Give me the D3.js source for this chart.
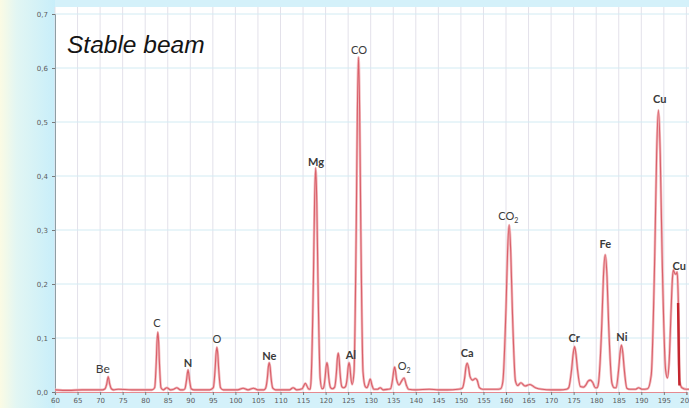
<!DOCTYPE html>
<html>
<head>
<meta charset="utf-8">
<script src="https://cdn.jsdelivr.net/npm/d3@7"></script>
<style>
body { margin: 0; background: #fff; }
svg { display: block; }
.axis text { font-family: "DejaVu Sans", sans-serif; font-size: 7px; fill: #5a5a5a; }
.peak { font-family: Lato, "Open Sans", sans-serif; fill: #3a3a3a; }
</style>
</head>
<body>
<script>
var w = 689;
var h = 408;

// mass (amu) and signal, peak by peak
var spectrum = [
  [60, 0.004], [63, 0.003], [66, 0.004], [69, 0.004], [70.5, 0.004],
  [71.1, 0.006], [71.45, 0.014], [71.8, 0.028], [72.15, 0.014], [72.5, 0.006], [73.0, 0.004],
  [74, 0.005], [77, 0.004], [80, 0.004], [81.5, 0.004],
  [82.1, 0.008], [82.45, 0.055], [82.62, 0.093], [82.8, 0.111], [82.98, 0.093], [83.15, 0.055], [83.5, 0.008], [84.0, 0.004],
  [84.8, 0.008], [85.6, 0.004], [86.3, 0.005], [87.0, 0.008], [87.8, 0.004], [88.4, 0.004],
  [88.8, 0.006], [89.15, 0.021], [89.5, 0.041], [89.85, 0.021], [90.2, 0.006], [90.8, 0.004],
  [92, 0.004], [94.3, 0.004],
  [95.1, 0.008], [95.5, 0.042], [95.7, 0.07], [95.9, 0.083], [96.1, 0.07], [96.3, 0.042], [96.7, 0.008], [97.3, 0.004],
  [99, 0.004], [100.5, 0.004], [101.7, 0.007], [102.8, 0.004], [104, 0.007], [105, 0.004], [106.3, 0.004],
  [106.7, 0.007], [107.1, 0.027], [107.3, 0.046], [107.5, 0.054], [107.7, 0.046], [107.9, 0.027], [108.3, 0.007], [108.9, 0.004],
  [110, 0.004], [112, 0.004], [112.8, 0.008], [113.6, 0.004], [114.8, 0.006], [115.5, 0.016], [116.2, 0.006], [116.6, 0.005],
  [116.8, 0.025], [117.3, 0.21], [117.55, 0.35], [117.8, 0.415], [118.05, 0.35], [118.3, 0.21], [118.8, 0.025], [119.2, 0.006],
  [119.5, 0.007], [119.9, 0.027], [120.1, 0.046], [120.3, 0.054], [120.5, 0.046], [120.7, 0.027], [121.1, 0.008], [121.5, 0.006],
  [122.0, 0.009], [122.4, 0.036], [122.6, 0.061], [122.8, 0.072], [123.0, 0.061], [123.2, 0.036], [123.6, 0.01], [124.0, 0.008],
  [124.4, 0.01], [124.8, 0.027], [125.0, 0.046], [125.2, 0.054], [125.4, 0.046], [125.6, 0.027], [125.9, 0.014],
  [126.3, 0.037], [126.8, 0.31], [127.05, 0.52], [127.3, 0.62], [127.55, 0.52], [127.8, 0.31], [128.3, 0.037], [128.8, 0.01],
  [129.2, 0.008], [129.5, 0.014], [129.9, 0.024], [130.3, 0.012], [130.7, 0.005],
  [131.5, 0.005], [132.1, 0.008], [132.8, 0.004], [133.8, 0.005],
  [134.4, 0.006], [134.85, 0.023], [135.1, 0.039], [135.3, 0.046], [135.5, 0.039], [135.75, 0.023], [136.3, 0.013],
  [136.9, 0.021], [137.4, 0.026], [137.9, 0.013], [138.4, 0.005],
  [140, 0.004], [143, 0.005], [145, 0.004], [147, 0.004], [149.4, 0.005],
  [150.3, 0.007], [150.85, 0.027], [151.1, 0.045], [151.4, 0.053], [151.7, 0.045], [152.0, 0.029], [152.6, 0.022],
  [153.2, 0.025], [153.6, 0.022], [154.1, 0.008], [154.8, 0.005],
  [156, 0.005], [158, 0.005], [158.8, 0.006],
  [159.3, 0.019], [160.0, 0.155], [160.35, 0.26], [160.7, 0.309], [161.05, 0.26], [161.4, 0.155], [162.1, 0.02], [162.6, 0.012],
  [163.3, 0.017], [164.2, 0.011], [165.3, 0.014], [166.5, 0.008], [168, 0.005], [170, 0.004], [172, 0.004], [173.4, 0.005],
  [173.9, 0.008], [174.55, 0.042], [174.9, 0.071], [175.2, 0.084], [175.5, 0.071], [175.85, 0.042], [176.5, 0.01], [177.2, 0.009],
  [177.7, 0.013], [178.2, 0.02], [178.7, 0.022], [179.2, 0.018], [179.8, 0.008], [180.2, 0.008],
  [180.5, 0.016], [181.25, 0.127], [181.6, 0.213], [182.0, 0.254], [182.4, 0.213], [182.75, 0.127], [183.5, 0.016], [184.0, 0.008],
  [184.4, 0.008], [185.0, 0.044], [185.3, 0.073], [185.6, 0.087], [185.9, 0.073], [186.2, 0.044], [186.8, 0.007], [187.5, 0.005],
  [188.7, 0.005], [189.4, 0.008], [190.2, 0.005], [191.4, 0.006],
  [192.2, 0.031], [193.0, 0.26], [193.4, 0.44], [193.8, 0.522], [194.2, 0.44], [194.6, 0.26], [195.4, 0.04], [195.8, 0.026],
  [196.2, 0.06], [196.6, 0.15], [196.9, 0.21], [197.1, 0.226], [197.4, 0.22], [197.7, 0.218], [197.95, 0.222], [198.2, 0.17],
  [198.5, 0.02], [199.0, 0.008], [200.0, 0.005], [200.8, 0.005]
];

// darker trace at the right edge
var spectrumEdge = [[198.15, 0.165], [198.25, 0.11], [198.35, 0.05], [198.45, 0.012]];

var peakNames = ["Be", "C", "N", "O", "Ne", "Mg", "Al", "CO", "O|2", "Ca", "CO|2", "Cr", "Fe", "Ni", "Cu", "Cu"];
var peakMass = [70.6, 82.6, 89.5, 95.9, 107.5, 117.9, 125.6, 127.4, 137.4, 151.4, 160.5, 175.1, 182.0, 185.7, 194.1, 198.4];
var peakLevel = [0.035, 0.120, 0.046, 0.091, 0.059, 0.419, 0.061, 0.626, 0.041, 0.065, 0.319, 0.093, 0.267, 0.094, 0.535, 0.226];
var peakBold = [false, false, true, false, true, true, true, false, false, true, false, true, true, true, true, true];

var xTicks = d3.range(60, 201, 5);
var yTicks = [0, 0.1, 0.2, 0.3, 0.4, 0.5, 0.6, 0.7];

var left = 55;
var bottom = 392;
var plotTop = 7;

var xScale = d3.scaleLinear()
  .domain([60, 200])
  .range([left, 686.4]);

var yScale = d3.scaleLinear()
  .domain([0, 0.7])
  .range([bottom, 14]);

var svg = d3.select("body")
  .append("svg")
  .attr("width", w)
  .attr("height", h);

var defs = svg.append("defs");
var grad = defs.append("linearGradient")
  .attr("id", "sideFill")
  .attr("x1", "0").attr("x2", "1").attr("y1", "0").attr("y2", "0");
grad.append("stop").attr("offset", "0").attr("stop-color", "#fbfbe4");
grad.append("stop").attr("offset", "0.3").attr("stop-color", "#e2f6f3");
grad.append("stop").attr("offset", "1").attr("stop-color", "#c8eefa");

defs.append("clipPath")
  .attr("id", "plotClip")
  .append("rect")
  .attr("x", left)
  .attr("y", plotTop)
  .attr("width", w - left)
  .attr("height", bottom - plotTop + 1);

// frame
svg.append("rect")
  .attr("x", 0).attr("y", 0)
  .attr("width", w).attr("height", h)
  .attr("fill", "#d4f1fa");
svg.append("rect")
  .attr("x", 0).attr("y", 0)
  .attr("width", left).attr("height", h)
  .attr("fill", "url(#sideFill)");
svg.append("rect")
  .attr("x", left).attr("y", plotTop)
  .attr("width", w - left).attr("height", bottom - plotTop)
  .attr("fill", "#fff");

// grid
svg.append("g")
  .selectAll("line")
  .data(xTicks)
  .enter()
  .append("line")
  .attr("x1", function(d) { return xScale(d); })
  .attr("x2", function(d) { return xScale(d); })
  .attr("y1", plotTop)
  .attr("y2", bottom)
  .attr("stroke", "#e3e1ea")
  .attr("stroke-width", 1);

svg.append("g")
  .selectAll("line")
  .data(yTicks.slice(1))
  .enter()
  .append("line")
  .attr("x1", left)
  .attr("x2", w)
  .attr("y1", function(d) { return yScale(d); })
  .attr("y2", function(d) { return yScale(d); })
  .attr("stroke", "#d2ebf3")
  .attr("stroke-width", 1);

// axes
var xAxis = d3.axisBottom(xScale)
  .tickValues(xTicks)
  .tickSize(3)
  .tickPadding(3)
  .tickFormat(d3.format("d"));

var yAxis = d3.axisLeft(yScale)
  .tickValues(yTicks)
  .tickSize(3)
  .tickPadding(4)
  .tickFormat(function(d) { return d3.format(".1f")(d).replace(".", ","); });

var gx = svg.append("g")
  .attr("class", "axis")
  .attr("transform", "translate(0," + bottom + ")")
  .call(xAxis);
gx.select(".domain").attr("stroke", "#e58a90").attr("stroke-width", 1.2);
gx.selectAll(".tick line").attr("stroke", "#7a7a7a");

var gy = svg.append("g")
  .attr("class", "axis")
  .attr("transform", "translate(" + left + ",0)")
  .call(yAxis);
gy.select(".domain").attr("stroke", "#8e9ea4");
gy.selectAll(".tick line").attr("stroke", "#7a7a7a");

// spectrum
var line = d3.line()
  .x(function(d) { return xScale(d[0]); })
  .y(function(d) { return yScale(d[1]); })
  .curve(d3.curveMonotoneX);

var plot = svg.append("g").attr("clip-path", "url(#plotClip)");

plot.append("path")
  .datum(spectrum)
  .attr("d", line)
  .attr("fill", "none")
  .attr("stroke", "#f2b9bd")
  .attr("stroke-width", 2.6);

plot.append("path")
  .datum(spectrum)
  .attr("d", line)
  .attr("fill", "none")
  .attr("stroke", "#d9606a")
  .attr("stroke-width", 1.1);

plot.append("path")
  .datum(spectrumEdge)
  .attr("d", line)
  .attr("fill", "none")
  .attr("stroke", "#c4262e")
  .attr("stroke-width", 2.4);

// peak labels
var labels = svg.append("g")
  .selectAll("text")
  .data(peakNames)
  .enter()
  .append("text")
  .attr("class", "peak")
  .attr("x", function(d, i) { return xScale(peakMass[i]); })
  .attr("y", function(d, i) { return yScale(peakLevel[i]); })
  .attr("text-anchor", "middle")
  .attr("font-size", function(d, i) { return i === 0 ? 12 : 11; })
  .attr("font-weight", function(d, i) { return peakBold[i] ? "bold" : "normal"; });

labels.each(function(d) {
  var parts = d.split("|");
  var t = d3.select(this);
  t.append("tspan").text(parts[0]);
  if (parts[1]) {
    t.append("tspan")
      .attr("font-size", 7)
      .attr("dy", 3)
      .text(parts[1]);
  }
});

svg.append("text")
  .attr("x", 67)
  .attr("y", 53)
  .attr("font-family", "Liberation Sans, Arial, sans-serif")
  .attr("font-style", "italic")
  .attr("font-size", 24.5)
  .attr("fill", "#141414")
  .text("Stable beam");
</script>
</body>
</html>
